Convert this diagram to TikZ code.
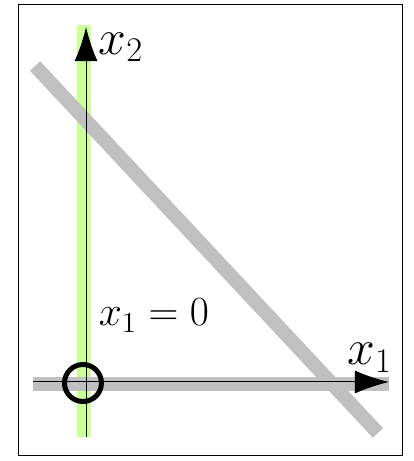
\documentclass[tikz,border=0pt]{standalone}
\usetikzlibrary{arrows.meta}
\definecolor{feas}{HTML}{CCFF99}
\definecolor{cons}{HTML}{C0C0C0}

\begin{document}
\begin{tikzpicture}[x=51pt,y=51pt,
  band/.style={line width=7pt,line cap=butt},
  axis/.style={-{Latex[length=17pt,width=11.5pt]},line width=0.5pt},
  lab/.style={font=\fontsize{22.5}{27}\selectfont,inner sep=0pt},
  axlab/.style={font=\fontsize{23.5}{28}\selectfont,inner sep=0pt}]
\useasboundingbox (-0.8235,-0.7647) rectangle (3.235,3.755);
\draw[line width=0.5pt] (-0.642,-0.706) rectangle (3.127,3.706);
% bands
\coordinate (gtop) at (0,3.51);
\coordinate (gbot) at (0,-0.53);
\coordinate (hl) at (-0.5,-0.01);
\coordinate (hr) at (2.99,-0.01);
\coordinate (dtop) at (-0.48,3.108);
\coordinate (dbot) at (2.882,-0.49);
\draw[band,feas] (gtop) -- (gbot);
\draw[band,cons] (hl) -- (hr);
\draw[band,cons] (dtop) -- (dbot);
% axes
\coordinate (ybot) at (0.02,-0.53);
\coordinate (ytip) at (0.02,3.49);
\coordinate (xl) at (-0.5,0.01);
\coordinate (xtip) at (2.99,0.01);
\draw[axis] (ybot) -- (ytip);
\draw[axis] (xl) -- (xtip);
\node[draw,circle,line width=2.5pt,minimum size=18.5pt,inner sep=0pt] (o) at (-0.01,0) {};
\node[axlab] (x2) at (0.363,3.29) {$x_2$};
\node[axlab] (x1) at (2.80,0.245) {$x_1$};
\node[lab] (c1) at (0.685,0.66) {$x_1=0$};
\end{tikzpicture}
\end{document}
